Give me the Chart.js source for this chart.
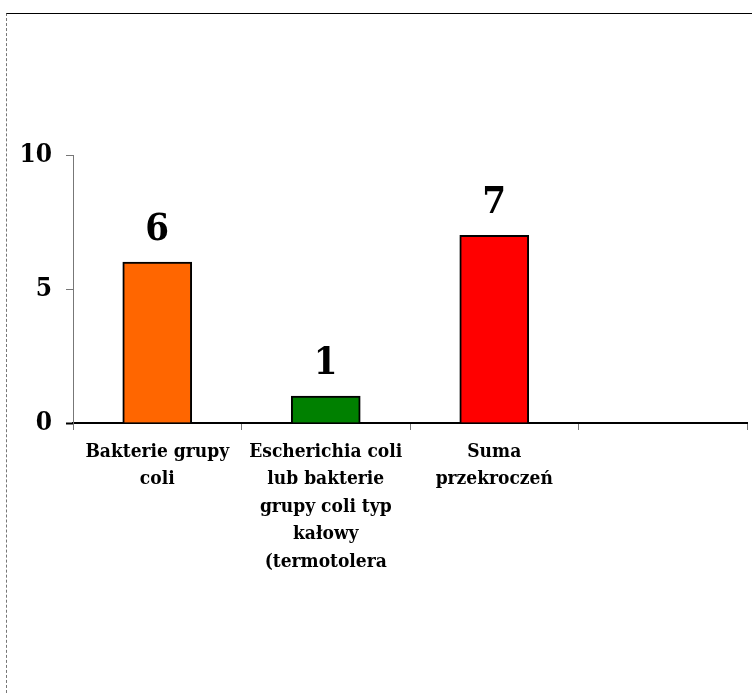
<!DOCTYPE html>
<html>
<head>
<meta charset="utf-8">
<script src="https://cdn.jsdelivr.net/npm/chart.js@4/dist/chart.umd.min.js"></script>
<style>
  html, body { margin: 0; padding: 0; background: #fff; }
  #wrap { position: relative; width: 752px; height: 693px; }
  #frame { position: absolute; left: 6px; top: 13px; right: 0; bottom: 0;
           border-top: 1px solid #000; border-left: 1px dashed #777; pointer-events: none; }
  canvas { position: absolute; left: 0; top: 0; }
</style>
</head>
<body>
<div id="wrap">
  <canvas id="c" width="752" height="693"></canvas>
  <div id="frame"></div>
</div>
<script>
// Categories (wrapped into lines for the axis), values and bar colours
const categories = [
  ["Bakterie grupy", "coli"],
  ["Escherichia coli", "lub bakterie", "grupy coli typ", "kałowy", "(termotolera"],
  ["Suma", "przekroczeń"],
  ""
];
const values = [6, 1, 7, null];
const barColors = ["#FF6600", "#008000", "#FF0000", "#FFFFFF"];
const yTicks = [0, 5, 10];

const FONT = "'DejaVu Serif Condensed', 'DejaVu Serif', serif";

// Draws each bar's value above it
const valueLabels = {
  id: 'valueLabels',
  afterDatasetsDraw(chart) {
    const ctx = chart.ctx;
    const meta = chart.getDatasetMeta(0);
    ctx.save();
    ctx.font = "bold 38px " + FONT;
    ctx.fillStyle = "#000";
    ctx.textAlign = "center";
    ctx.textBaseline = "alphabetic";
    meta.data.forEach((bar, i) => {
      const v = values[i];
      if (v === null || v === undefined) return;
      ctx.fillText(String(v), bar.x, bar.y - 22);
    });
    ctx.restore();
  }
};

new Chart(document.getElementById('c'), {
  type: 'bar',
  data: {
    labels: categories,
    datasets: [{
      data: values,
      backgroundColor: barColors,
      borderColor: "#000",
      borderWidth: 2,
      borderSkipped: 'bottom',
      barThickness: 69
    }]
  },
  options: {
    responsive: false,
    animation: false,
    events: [],
    layout: { padding: { top: 155, right: 5, left: 0, bottom: 0 } },
    plugins: { legend: { display: false }, tooltip: { enabled: false } },
    scales: {
      x: {
        grid: { display: true, drawOnChartArea: false, drawTicks: true, tickLength: 7, color: "#777", offset: true },
        border: { display: true, color: "#000", width: 2 },
        ticks: {
          color: "#000",
          font: { family: FONT, size: 19, weight: 'bold', lineHeight: 1.45 },
          padding: 8,
          maxRotation: 0,
          autoSkip: false
        },
        afterFit(scale) { scale.height = 270; }
      },
      y: {
        min: 0,
        max: 10,
        afterBuildTicks(scale) { scale.ticks = yTicks.map(v => ({ value: v })); },
        grid: {
          display: true, drawOnChartArea: false, drawTicks: true, tickLength: 7,
          color: (c) => (c.tick && c.tick.value === 0 ? "#000" : "#777"),
          tickWidth: (c) => (c.tick && c.tick.value === 0 ? 2 : 1)
        },
        border: { display: true, color: "#777", width: 1 },
        ticks: {
          color: "#000",
          font: { family: FONT, size: 26, weight: 'bold' },
          padding: 14
        },
        afterFit(scale) { scale.width = 73; }
      }
    }
  },
  plugins: [valueLabels]
});
</script>
</body>
</html>
